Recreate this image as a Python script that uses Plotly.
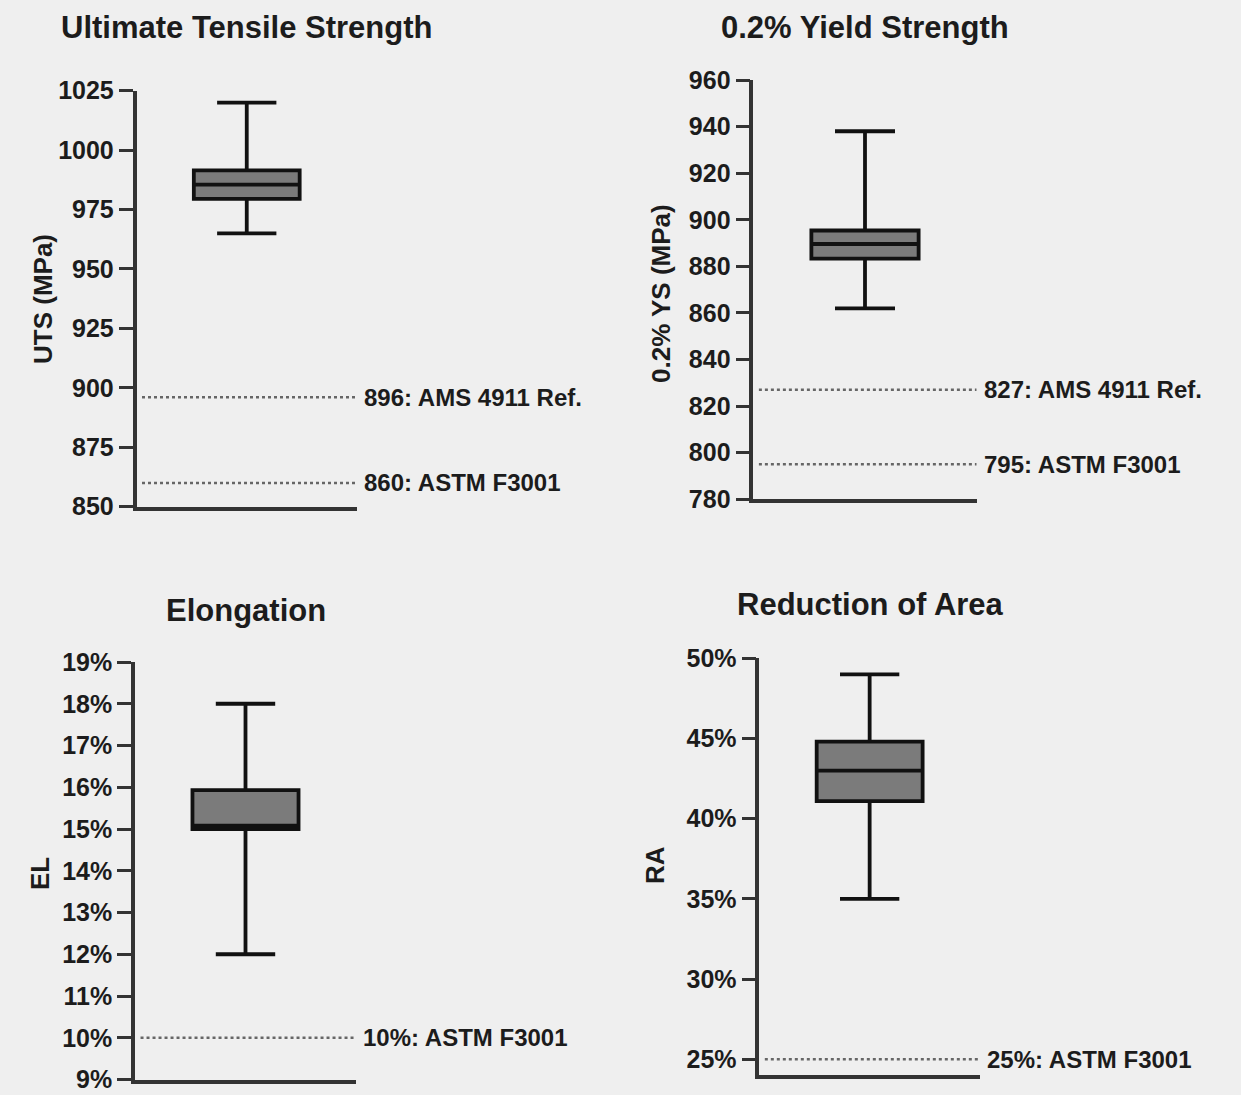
import plotly.graph_objects as go

W, H = 1241, 1095

# ---- data ----
panel_titles = ["Ultimate Tensile Strength", "0.2% Yield Strength", "Elongation", "Reduction of Area"]
axis_titles = ["UTS (MPa)", "0.2% YS (MPa)", "EL", "RA"]

box_min = [965, 862, 12.0, 35.0]
box_q1 = [979.5, 883.3, 15.0, 41.1]
box_median = [985.5, 889.6, 15.08, 43.0]
box_q3 = [991.5, 895.4, 15.93, 44.8]
box_max = [1020, 938, 18.0, 49.0]

ref_values = [[896, 860], [827, 795], [10], [25]]
ref_labels = [["896: AMS 4911 Ref.", "860: ASTM F3001"],
              ["827: AMS 4911 Ref.", "795: ASTM F3001"],
              ["10%: ASTM F3001"],
              ["25%: ASTM F3001"]]

y_ranges = [[850, 1025], [780, 960], [9, 19], [24, 50]]
y_tickvals = [[850, 875, 900, 925, 950, 975, 1000, 1025],
              [780, 800, 820, 840, 860, 880, 900, 920, 940, 960],
              [9, 10, 11, 12, 13, 14, 15, 16, 17, 18, 19],
              [25, 30, 35, 40, 45, 50]]
y_suffix = ["", "", "%", "%"]

# ---- layout geometry (pixels) ----
plot_px = [  # x0, x1, ytop, ybottom
    (136.5, 357.0, 90.7, 506.7),
    (753.3, 976.7, 80.0, 499.3),
    (135.0, 356.0, 662.0, 1079.5),
    (759.3, 980.0, 658.3, 1075.3),
]
title_px = [(247, 27), (865, 27), (246, 610), (870, 604)]
ytitle_px = [(43, 299), (661, 294), (40, 873), (655, 865)]

FONT = "Liberation Sans, Arial, sans-serif"
TXT = "#1c1c1c"
AX = "#333333"

fig = go.Figure()
annotations = []
layout_axes = {}

for i in range(4):
    n = "" if i == 0 else str(i + 1)
    xa, ya = "x" + n, "y" + n
    x0, x1, yt, yb = plot_px[i]
    layout_axes["xaxis" + n] = dict(
        domain=[x0 / W, x1 / W], range=[0, 1], anchor=ya, automargin=False,
        showline=True, linewidth=3.5, linecolor=AX, showgrid=False, zeroline=False,
        showticklabels=False, ticks="", fixedrange=True,
    )
    layout_axes["yaxis" + n] = dict(
        domain=[1 - yb / H, 1 - yt / H], range=y_ranges[i], anchor=xa, automargin=False,
        showline=True, linewidth=3.5, linecolor=AX, showgrid=False, zeroline=False,
        ticks="outside", ticklen=14, tickwidth=3, tickcolor=AX,
        tickmode="array", tickvals=y_tickvals[i],
        ticktext=[f"{v}{y_suffix[i]}" for v in y_tickvals[i]],
        tickfont=dict(family=FONT, size=25, color=TXT, weight="bold"),
        ticklabeloverflow="allow",
        fixedrange=True,
    )

    fig.add_trace(go.Box(
        x=[0.5], q1=[box_q1[i]], median=[box_median[i]], q3=[box_q3[i]],
        lowerfence=[box_min[i]], upperfence=[box_max[i]],
        width=0.48, whiskerwidth=0.56,
        fillcolor="#7b7b7b", line=dict(color="#111111", width=3.8),
        boxpoints=False, xaxis=xa, yaxis=ya, showlegend=False, hoverinfo="skip",
    ))

    for v, lab in zip(ref_values[i], ref_labels[i]):
        fig.add_trace(go.Scatter(
            x=[0.025, 1.0], y=[v, v], mode="lines",
            line=dict(color="#666666", width=2.5, dash="dot"),
            xaxis=xa, yaxis=ya, showlegend=False, hoverinfo="skip", cliponaxis=False,
        ))
        annotations.append(dict(
            x=1.0, y=v, xref=xa, yref=ya, text=lab, showarrow=False,
            xanchor="left", yanchor="middle", xshift=5,
            font=dict(family=FONT, size=24, color=TXT, weight="bold"),
        ))

    tx, ty = title_px[i]
    annotations.append(dict(
        x=tx / W, y=1 - ty / H, xref="paper", yref="paper", text=panel_titles[i],
        showarrow=False, xanchor="center", yanchor="middle",
        font=dict(family=FONT, size=31, color=TXT, weight="bold"),
    ))
    ax_, ay_ = ytitle_px[i]
    annotations.append(dict(
        x=ax_ / W, y=1 - ay_ / H, xref="paper", yref="paper", text=axis_titles[i],
        showarrow=False, xanchor="center", yanchor="middle", textangle=-90,
        font=dict(family=FONT, size=26, color=TXT, weight="bold"),
    ))

fig.update_layout(
    width=W, height=H,
    margin=dict(l=0, r=0, t=0, b=0, autoexpand=False),
    paper_bgcolor="#efefef", plot_bgcolor="#efefef",
    annotations=annotations,
    showlegend=False,
    **layout_axes,
)

fig.write_html(
    "out.html",
    config={"displayModeBar": False},
    post_script="document.body.style.margin='0';document.body.style.overflow='hidden';",
)
